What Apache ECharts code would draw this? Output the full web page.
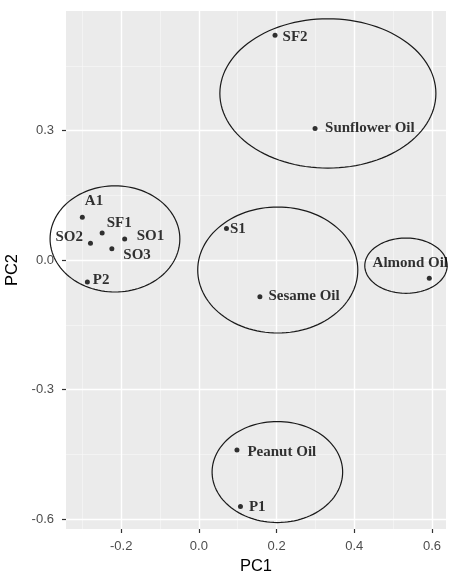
<!DOCTYPE html>
<html>
<head>
<meta charset="utf-8">
<script src="https://cdn.jsdelivr.net/npm/echarts@6/dist/echarts.min.js"></script>
<style>
  html, body { margin: 0; padding: 0; background: #ffffff; }
  #chart { width: 450px; height: 574px; }
</style>
</head>
<body>
<div id="chart"></div>
<script>
// PCA scores of oil samples
const sampleNames = ['A1', 'SF1', 'SO2', 'SO1', 'SO3', 'P2', 'SF2', 'Sunflower Oil', 'S1', 'Almond Oil', 'Sesame Oil', 'Peanut Oil', 'P1'];
const pc1Scores = [-0.300, -0.249, -0.279, -0.191, -0.224, -0.287, 0.196, 0.299, 0.071, 0.593, 0.157, 0.098, 0.107];
const pc2Scores = [0.099, 0.063, 0.039, 0.049, 0.026, -0.051, 0.521, 0.305, 0.073, -0.042, -0.085, -0.440, -0.571];

// Group ellipses: centre (PC1, PC2) and half-widths
const ellipseCx = [-0.216, 0.332, 0.203, 0.533, 0.202];
const ellipseCy = [0.049, 0.386, -0.023, -0.013, -0.491];
const ellipseRx = [0.167, 0.278, 0.206, 0.106, 0.168];
const ellipseRy = [0.123, 0.173, 0.146, 0.064, 0.117];

// Axis ticks and grid lines
const xTicks = [-0.2, 0.0, 0.2, 0.4, 0.6];
const yTicks = [-0.6, -0.3, 0.0, 0.3];
const xMinor = [-0.3, -0.1, 0.1, 0.3, 0.5];
const yMinor = [-0.45, -0.15, 0.15, 0.45];

// Label placement around each point: [align, dx, dy] in pixels
const labelPlacement = {
  'A1': ['left', 2.5, -16],
  'SF1': ['left', 4.5, -9.5],
  'SO2': ['right', -7.5, -6],
  'SO1': ['left', 12, -3],
  'SO3': ['left', 11.5, 6.5],
  'P2': ['left', 5.5, -1.5],
  'SF2': ['left', 7.5, 2],
  'Sunflower Oil': ['left', 10, -0.5],
  'S1': ['left', 3.5, 1],
  'Almond Oil': ['center', -19, -15],
  'Sesame Oil': ['left', 8.5, -0.5],
  'Peanut Oil': ['left', 10.5, 2.5],
  'P1': ['left', 8.5, 0.5]
};

const chart = echarts.init(document.getElementById('chart'), null, { renderer: 'canvas' });

const majorLine = { color: '#ffffff', width: 1.4, type: 'solid' };
const minorLine = { color: '#f7f7f7', width: 0.7, type: 'solid' };

const gridLines = []
  .concat(xMinor.map(v => ({ xAxis: v, lineStyle: minorLine })))
  .concat(yMinor.map(v => ({ yAxis: v, lineStyle: minorLine })))
  .concat(xTicks.map(v => ({ xAxis: v, lineStyle: majorLine })))
  .concat(yTicks.map(v => ({ yAxis: v, lineStyle: majorLine })));

const points = sampleNames.map((n, i) => ({ name: n, value: [pc1Scores[i], pc2Scores[i]] }));

const ellipses = ellipseCx.map((cx, i) => [cx, ellipseCy[i], ellipseRx[i], ellipseRy[i]]);

const tickFont = 'Liberation Sans, Arial, sans-serif';

chart.setOption({
  animation: false,
  backgroundColor: '#ffffff',
  grid: {
    left: 66, right: 4, top: 11, bottom: 45,
    containLabel: false,
    outerBoundsMode: 'none',
    show: true, backgroundColor: '#ebebeb', borderWidth: 0
  },
  xAxis: {
    type: 'value',
    min: -0.342, max: 0.636,
    name: 'PC1',
    nameLocation: 'middle',
    nameGap: 29,
    nameTextStyle: { color: '#000000', fontSize: 16.5, fontFamily: tickFont },
    axisLine: { show: true, onZero: false, lineStyle: { color: 'rgba(0,0,0,0)' } },
    axisTick: { show: true, inside: false, length: 4, customValues: xTicks, lineStyle: { color: '#333333', width: 1.2 } },
    axisLabel: {
      customValues: xTicks, margin: 11,
      color: '#4d4d4d', fontSize: 13, fontFamily: tickFont,
      formatter: v => v.toFixed(1)
    },
    splitLine: { show: false }
  },
  yAxis: {
    type: 'value',
    min: -0.623, max: 0.577,
    name: 'PC2',
    nameLocation: 'middle',
    nameGap: 34,
    nameRotate: 90,
    nameTextStyle: { color: '#000000', fontSize: 16.5, fontFamily: tickFont },
    axisLine: { show: true, onZero: false, lineStyle: { color: 'rgba(0,0,0,0)' } },
    axisTick: { show: true, inside: false, length: 4, customValues: yTicks, lineStyle: { color: '#333333', width: 1.2 } },
    axisLabel: {
      customValues: yTicks, margin: 12,
      color: '#4d4d4d', fontSize: 13, fontFamily: tickFont,
      formatter: v => v.toFixed(1)
    },
    splitLine: { show: false }
  },
  series: [
    {
      // panel grid lines, kept beneath everything else
      type: 'scatter',
      data: [],
      silent: true,
      z: 1,
      markLine: {
        z: 1,
        silent: true,
        symbol: 'none',
        label: { show: false },
        animation: false,
        data: gridLines
      }
    },
    {
      type: 'custom',
      z: 3,
      silent: true,
      clip: false,
      data: ellipses,
      encode: { x: 0, y: 1 },
      renderItem: function (params, api) {
        const cx = api.value(0), cy = api.value(1), rx = api.value(2), ry = api.value(3);
        const pts = [];
        const n = 120;
        for (let k = 0; k < n; k++) {
          const t = (k / n) * Math.PI * 2;
          pts.push(api.coord([cx + rx * Math.cos(t), cy + ry * Math.sin(t)]));
        }
        return {
          type: 'polygon',
          shape: { points: pts },
          style: { fill: 'none', stroke: '#1a1a1a', lineWidth: 1.2 }
        };
      }
    },
    {
      type: 'scatter',
      z: 4,
      symbol: 'circle',
      symbolSize: 5,
      itemStyle: { color: '#000000' },
      data: points,
      label: {
        show: true,
        position: 'inside',
        formatter: '{b}',
        color: '#000000',
        fontSize: 15,
        fontWeight: 'bold',
        fontFamily: 'Liberation Serif, Times New Roman, serif'
      },
      labelLayout: function (params) {
        const p = labelPlacement[sampleNames[params.dataIndex]];
        const r = params.rect;
        return {
          x: r.x + r.width / 2 + p[1],
          y: r.y + r.height / 2 + p[2],
          align: p[0],
          verticalAlign: 'middle',
          hideOverlap: false
        };
      }
    }
  ]
});
</script>
</body>
</html>
